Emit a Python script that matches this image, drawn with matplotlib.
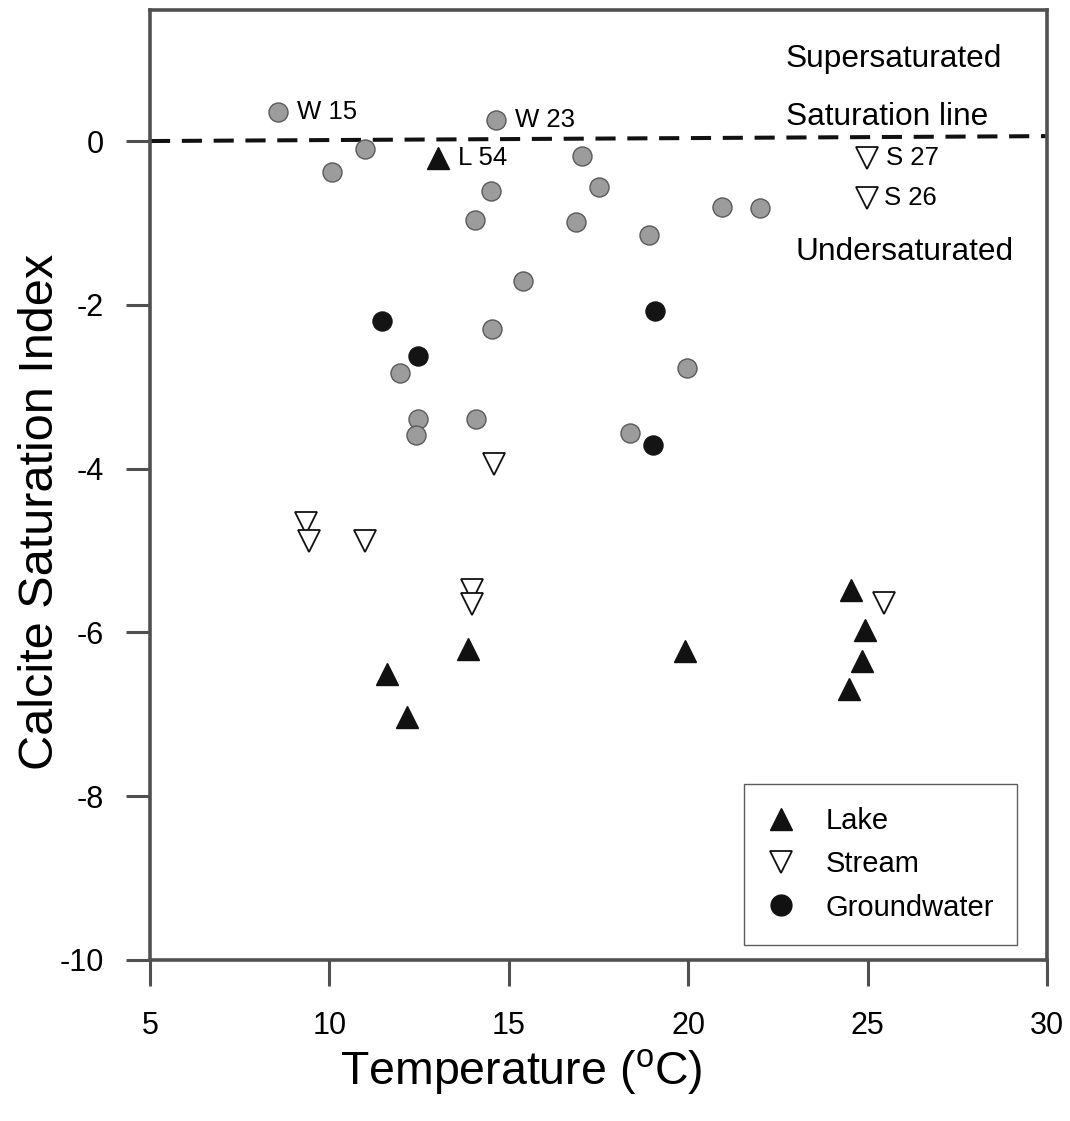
import matplotlib
matplotlib.use("Agg")
import matplotlib.pyplot as plt
from matplotlib.lines import Line2D

plt.rcParams["font.family"] = ["Liberation Sans", "DejaVu Sans"]
plt.rcParams["mathtext.fontset"] = "custom"
plt.rcParams["mathtext.rm"] = "Liberation Sans"
plt.rcParams["axes.unicode_minus"] = False

# Temperature (C) and calcite saturation index by sample type
well_t = [8.56, 14.64, 10.08, 11.0, 17.03, 17.5, 14.5, 14.06, 16.86, 18.92,
          20.94, 22.0, 15.39, 14.53, 11.97, 12.47, 12.42, 14.08, 19.97, 18.39]
well_si = [0.35, 0.26, -0.38, -0.10, -0.18, -0.56, -0.61, -0.96, -0.99, -1.15,
           -0.80, -0.82, -1.71, -2.30, -2.83, -3.39, -3.59, -3.39, -2.77, -3.57]

gw_t = [11.47, 12.47, 19.08, 19.03]
gw_si = [-2.20, -2.62, -2.07, -3.71]

stream_t = [24.97, 24.97, 14.58, 9.36, 9.44, 11.0, 13.97, 13.97, 25.47]
stream_si = [-0.21, -0.70, -3.94, -4.66, -4.88, -4.88, -5.48, -5.65, -5.64]

lake_t = [13.03, 13.86, 11.61, 12.17, 19.92, 24.53, 24.92, 24.83, 24.47]
lake_si = [-0.21, -6.20, -6.51, -7.03, -6.23, -5.48, -5.97, -6.35, -6.69]

sat_x = [5, 30]
sat_y = [0.0, 0.06]

# sample ids written next to selected points
ids = ["W 15", "W 23", "L 54", "S 27", "S 26"]
id_x = [9.11, 15.17, 13.58, 25.5, 25.47]
id_y = [0.35, 0.26, -0.21, -0.21, -0.70]

fig = plt.figure(figsize=(10.7, 11.21), dpi=100)
ax = fig.add_axes([150 / 1070, 161 / 1121, 897 / 1070, 950 / 1121])

spine_col = "#505050"
for s in ax.spines.values():
    s.set_color(spine_col)
    s.set_linewidth(2.6)

ax.plot(sat_x, sat_y, color="#111111", lw=2.9, dashes=(5, 2.9), zorder=1)

ax.plot(well_t, well_si, "o", ms=13.7, mfc="#9c9c9c", mec="#5a5a5a", mew=1.0, ls="none", zorder=3)
ax.plot(gw_t, gw_si, "o", ms=13.7, mfc="#141414", mec="#141414", ls="none", zorder=3)
ax.plot(stream_t, stream_si, "v", ms=16.5, mfc="white", mec="#111111", mew=1.3, ls="none", zorder=3)
ax.plot(lake_t, lake_si, "^", ms=16.5, mfc="#111111", mec="#111111", ls="none", zorder=3)

for lab, x, y in zip(ids, id_x, id_y):
    ax.text(x, y, lab, fontsize=18.5, va="center", ha="left")

ax.text(22.72, 1.0, "Supersaturated", fontsize=22.8, va="center", ha="left")
ax.text(22.72, 0.29, "Saturation line", fontsize=22.8, va="center", ha="left")
ax.text(23.0, -1.35, "Undersaturated", fontsize=22.8, va="center", ha="left")

ax.set_xlim(5, 30)
ax.set_ylim(-10, 1.6)
ax.set_xticks([5, 10, 15, 20, 25, 30])
ax.set_yticks([-10, -8, -6, -4, -2, 0])
ax.tick_params(axis="x", length=19, width=2.2, color=spine_col, labelsize=22, pad=18)
ax.tick_params(axis="y", length=17, width=2.2, color=spine_col, labelsize=22, pad=16)

ax.set_xlabel(r"Temperature ($^{\rm o}$C)", fontsize=33.5)
ax.set_ylabel("Calcite Saturation Index", fontsize=35)
ax.xaxis.set_label_coords(0.4136, -0.092)
ax.yaxis.set_label_coords(-0.097, 0.4716)

handles = [
    Line2D([], [], marker="^", ls="none", ms=16.5, mfc="#111111", mec="#111111"),
    Line2D([], [], marker="v", ls="none", ms=16.5, mfc="white", mec="#111111", mew=1.3),
    Line2D([], [], marker="o", ls="none", ms=15, mfc="#111111", mec="#111111"),
]
leg = ax.legend(handles, ["Lake", "Stream", "Groundwater"], loc="lower right",
                bbox_to_anchor=(0.9666, 0.0158), borderaxespad=0, fontsize=21,
                frameon=True, fancybox=False, borderpad=0.8, handlelength=1.0,
                handletextpad=1.0, labelspacing=0.52)
leg.get_frame().set_edgecolor("#333333")
leg.get_frame().set_linewidth(1.0)

fig.savefig("out.png", dpi=100)
